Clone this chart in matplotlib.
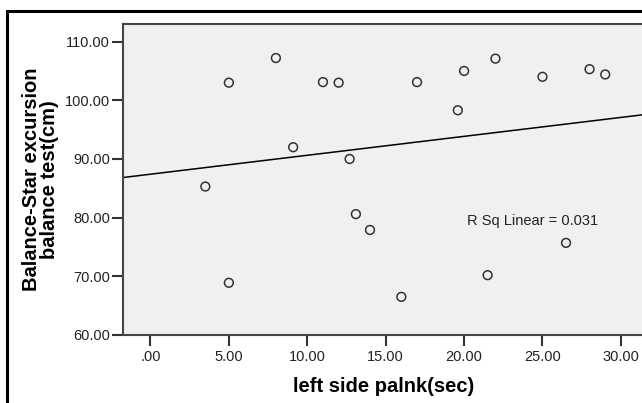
import numpy as np
import matplotlib
matplotlib.use("Agg")
import matplotlib.pyplot as plt
from matplotlib.patches import Rectangle

plt.rcParams['font.family'] = ['Liberation Sans', 'DejaVu Sans']

# left side plank time (sec) vs star excursion balance (cm)
plank_sec = [3.5, 5.0, 5.0, 8.0, 9.1, 11.0, 12.0, 12.7, 13.1, 14.0,
             16.0, 17.0, 19.6, 20.0, 22.0, 21.5, 25.0, 26.5, 28.0, 29.0]
balance_cm = [85.3, 103.0, 68.9, 107.2, 92.0, 103.1, 103.0, 90.0, 80.6, 77.9,
              66.5, 103.1, 98.3, 105.0, 107.1, 70.2, 104.0, 75.7, 105.3, 104.4]

xticks = [0, 5, 10, 15, 20, 25, 30]
xtick_labels = ['.00', '5.00', '10.00', '15.00', '20.00', '25.00', '30.00']
yticks = [60, 70, 80, 90, 100, 110]
ytick_labels = ['60.00', '70.00', '80.00', '90.00', '100.00', '110.00']

fig = plt.figure(figsize=(6.42, 4.03), dpi=100)
fig.patch.set_facecolor('white')

# outer chart frame (cropped at right/bottom)
fig.patches.append(Rectangle((7 / 642, -0.05), 1.2, (403 - 11) / 403 + 0.05,
                             transform=fig.transFigure, fill=False,
                             edgecolor='black', linewidth=2.2))

ax = fig.add_axes([123 / 642, (403 - 335) / 403, (646 - 123) / 642, (335 - 24) / 403])
ax.set_facecolor('#f0f0f0')

ax.scatter(plank_sec, balance_cm, s=40, facecolors='none',
           edgecolors='#333333', linewidths=1.1, zorder=3)

# linear fit
slope, intercept = np.polyfit(plank_sec, balance_cm, 1)
x0, x1 = -1.75, 31.6
ax.plot([x0, x1], [intercept + slope * x0, intercept + slope * x1],
        color='black', linewidth=1.1, zorder=2)

ax.set_xlim(x0, x1)
ax.set_ylim(60, 113)

ax.set_xticks(xticks)
ax.set_xticklabels(xtick_labels)
ax.set_yticks(yticks)
ax.set_yticklabels(ytick_labels)
ax.tick_params(axis='both', colors='#333333', labelcolor='#222222',
               labelsize=10.5, width=1.5, length=8, direction='out')
ax.tick_params(axis='x', pad=3)
ax.tick_params(axis='y', pad=1.5)

for side in ['left', 'bottom', 'top']:
    ax.spines[side].set_color('#444444')
    ax.spines[side].set_linewidth(1.5)
ax.spines['right'].set_visible(False)

ax.text(24.35, 79.5, 'R Sq Linear = 0.031', fontsize=10.5, ha='center',
        va='center', color='#222222')

ax.set_xlabel('left side palnk(sec)', fontsize=14.5, fontweight='bold')
ax.set_ylabel('Balance-Star excursion\nbalance test(cm)', fontsize=14.5,
              fontweight='bold', linespacing=0.95)
ax.xaxis.set_label_coords((384 - 123) / 523, (335 - 377) / 311)
ax.yaxis.set_label_coords((59 - 123) / 523, 0.5)

fig.savefig('out.png', dpi=100)
